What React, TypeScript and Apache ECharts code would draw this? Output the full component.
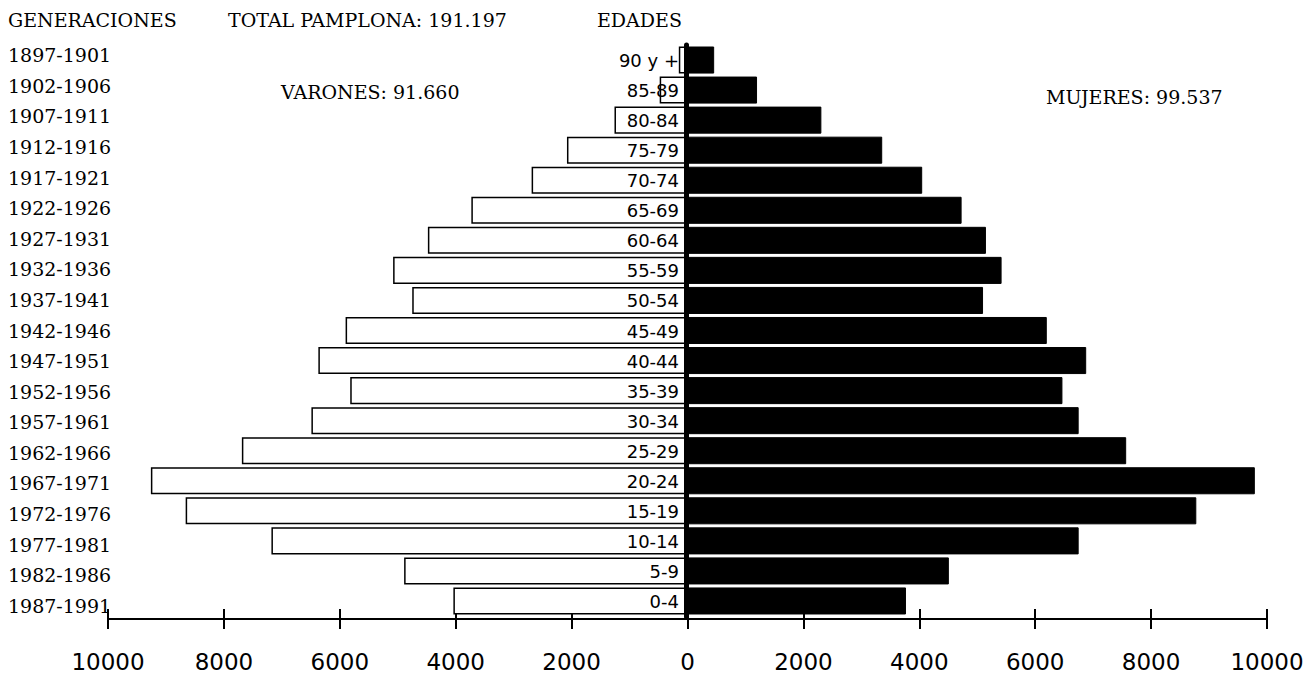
import React, { useEffect, useRef } from "react";
import * as echarts from "echarts";

const ages = ["0-4", "5-9", "10-14", "15-19", "20-24", "25-29", "30-34", "35-39", "40-44", "45-49", "50-54", "55-59", "60-64", "65-69", "70-74", "75-79", "80-84", "85-89", "90 y +"];
const generations = ["1987-1991", "1982-1986", "1977-1981", "1972-1976", "1967-1971", "1962-1966", "1957-1961", "1952-1956", "1947-1951", "1942-1946", "1937-1941", "1932-1936", "1927-1931", "1922-1926", "1917-1921", "1912-1916", "1907-1911", "1902-1906", "1897-1901"];
const varones = [4040, 4890, 7180, 8660, 9260, 7690, 6490, 5820, 6370, 5900, 4750, 5080, 4480, 3730, 2690, 2080, 1260, 480, 150];
const mujeres = [3770, 4510, 6750, 8780, 9790, 7570, 6750, 6470, 6880, 6200, 5100, 5420, 5150, 4730, 4050, 3360, 2310, 1200, 460];
const xTicks = { min: -10000, max: 10000, interval: 2000 };

const SERIF = "'DejaVu Serif', serif";
const SANS = "'DejaVu Sans', sans-serif";

export default function App() {
  const ref = useRef<HTMLDivElement>(null);
  useEffect(() => {
    if (!ref.current) return;
    const chart = echarts.init(ref.current, undefined, { renderer: "svg" });
    chart.setOption({
      animation: false,
      backgroundColor: "#fff",
      grid: [
        { left: 108, right: 46, top: 45, bottom: 56 },
        { left: 108, right: 46, top: 40, bottom: 52 },
        { left: 686, right: 46, top: 45, bottom: 56, z: 10 },
      ],
      xAxis: [
        {
          type: "value", gridIndex: 0, position: "bottom", offset: 3,
          min: xTicks.min, max: xTicks.max, interval: xTicks.interval,
          axisLine: { show: true, onZero: false, lineStyle: { color: "#000", width: 2 } },
          axisTick: { show: true, length: 10, lineStyle: { color: "#000", width: 2 } },
          axisLabel: { color: "#000", fontFamily: SANS, fontSize: 23, margin: 31, formatter: (v: number) => String(Math.abs(v)) },
          splitLine: { show: false },
        },
        {
          type: "value", gridIndex: 0, position: "bottom", offset: 3,
          min: xTicks.min, max: xTicks.max, interval: xTicks.interval,
          axisLine: { show: false },
          axisTick: { show: true, inside: true, length: 10, lineStyle: { color: "#000", width: 2 } },
          axisLabel: { show: false },
          splitLine: { show: false },
        },
        { type: "value", gridIndex: 1, show: false, min: 0, max: 1 },
        { type: "value", gridIndex: 2, show: false, min: 0, max: 1 },
      ],
      yAxis: [
        {
          type: "category", gridIndex: 0, data: ages, show: false,
        },
        {
          type: "category", gridIndex: 1, data: generations, position: "left",
          axisLine: { show: false }, axisTick: { show: false },
          axisLabel: { color: "#000", fontFamily: SERIF, fontSize: 19, margin: 100, align: "left" },
        },
        {
          type: "category", gridIndex: 2, data: ages, position: "left", z: 10,
          axisLine: { show: true, onZero: false, lineStyle: { color: "#000", width: 5 } },
          axisTick: { show: false },
          axisLabel: { color: "#000", fontFamily: SANS, fontSize: 18, margin: 7 },
        },
      ],
      series: [
        {
          name: "Varones", type: "bar", xAxisIndex: 0, yAxisIndex: 0,
          data: varones.map((v) => -v),
          barCategoryGap: "10%", barGap: "-100%",
          itemStyle: { color: "#fff", borderColor: "#000", borderWidth: 1.5 },
        },
        {
          name: "Mujeres", type: "bar", xAxisIndex: 0, yAxisIndex: 0,
          data: mujeres,
          barCategoryGap: "10%", barGap: "-100%",
          itemStyle: { color: "#000", borderColor: "#000", borderWidth: 1 },
        },
      ],
      graphic: [
        { type: "text", left: 8, top: 10, style: { text: "GENERACIONES", font: `19px ${SERIF}`, fill: "#000" } },
        { type: "text", left: 228, top: 10, style: { text: "TOTAL PAMPLONA: 191.197", font: `19px ${SERIF}`, fill: "#000" } },
        { type: "text", left: 597, top: 10, style: { text: "EDADES", font: `19px ${SERIF}`, fill: "#000" } },
        { type: "text", left: 281, top: 82, style: { text: "VARONES: 91.660", font: `19px ${SERIF}`, fill: "#000" } },
        { type: "text", left: 1046, top: 87, style: { text: "MUJERES: 99.537", font: `19px ${SERIF}`, fill: "#000" } },
      ],
    });
    return () => chart.dispose();
  }, []);
  return <div ref={ref} style={{ position: "fixed", left: 0, top: 0, width: 1313, height: 673 }} />;
}
